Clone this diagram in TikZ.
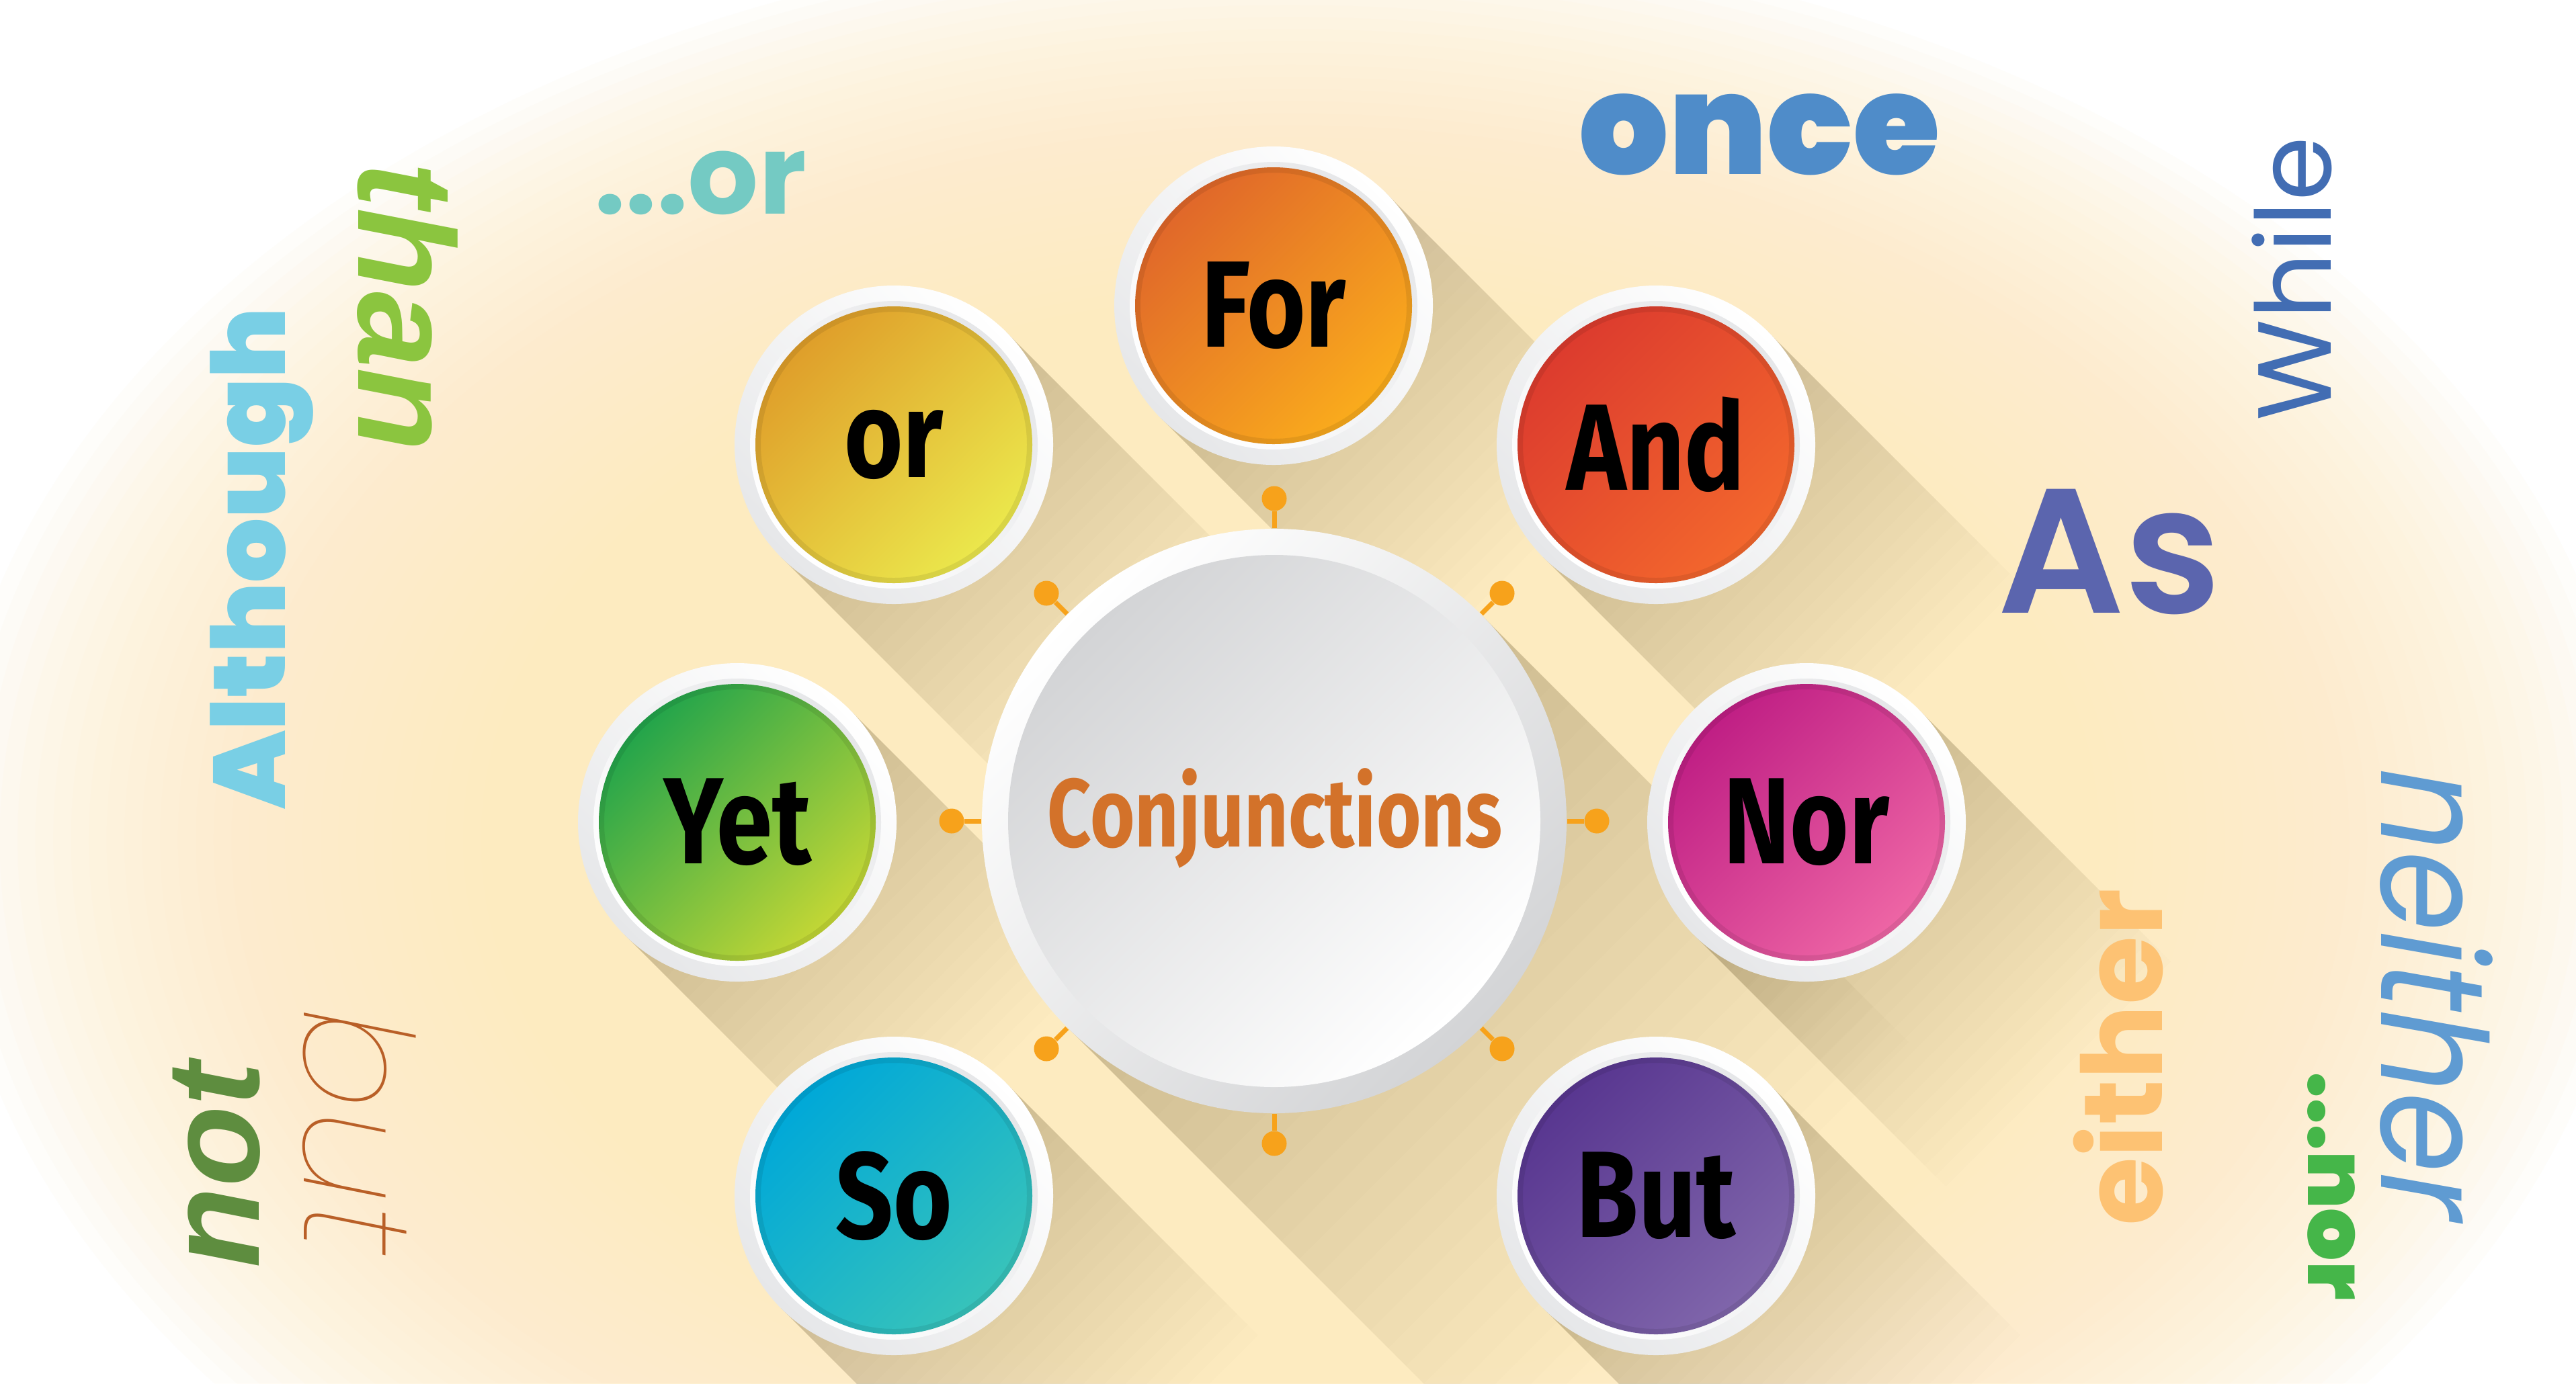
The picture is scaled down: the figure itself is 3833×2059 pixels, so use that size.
\documentclass[tikz,border=0pt]{standalone}
\usepackage{fontspec}
\usepackage{graphicx}
\usetikzlibrary{calc}

\newfontfamily\fira{Fira Sans}
\newfontfamily\pop{Poppins}
\newfontfamily\libsans{Liberation Sans}
\newfontfamily\popslant{Poppins}[FakeSlant=0.2]
\IfFontExistsTF{Poppins SemiBold}{\newfontfamily\popsemi{Poppins SemiBold}}{\newcommand\popsemi{\pop\bfseries}}
\IfFontExistsTF{Poppins Black}{\newfontfamily\popblack{Poppins Black}}{\newcommand\popblack{\pop\bfseries}}
\IfFontExistsTF{Poppins Thin}{\newfontfamily\popthin{Poppins Thin}[FakeSlant=0.2]}{%
  \IfFontExistsTF{Poppins Light}{\newfontfamily\popthin{Poppins Light}[FakeSlant=0.2]}{\newfontfamily\popthin{Poppins}[FakeSlant=0.2]}}

\definecolor{cream}{HTML}{FDEBC0}
\definecolor{ringgray}{HTML}{E6E7E9}
\definecolor{hubgray}{HTML}{D3D4D6}
\definecolor{dotorange}{HTML}{F7A21B}
\definecolor{conjorange}{HTML}{D3722A}
\definecolor{forA}{HTML}{E0672A}\definecolor{forB}{HTML}{FAAC1C}
\definecolor{andA}{HTML}{DC3B2E}\definecolor{andB}{HTML}{F3672D}
\definecolor{norA}{HTML}{BF1E84}\definecolor{norB}{HTML}{EE66A5}
\definecolor{butA}{HTML}{583690}\definecolor{butB}{HTML}{8066AB}
\definecolor{soA}{HTML}{00A8D8}\definecolor{soB}{HTML}{38C3BA}
\definecolor{yetA}{HTML}{22A44B}\definecolor{yetB}{HTML}{C4D735}
\definecolor{orA}{HTML}{DF9E2A}\definecolor{orB}{HTML}{EBE84C}
\definecolor{cOnce}{HTML}{4F8CC9}
\definecolor{cDotsOr}{HTML}{74CAC3}
\definecolor{cThan}{HTML}{8BC53F}
\definecolor{cAlthough}{HTML}{79CFE5}
\definecolor{cNot}{HTML}{5E8D3F}
\definecolor{cBut}{HTML}{B95F27}
\definecolor{cWhile}{HTML}{426DB3}
\definecolor{cAs}{HTML}{5B65AE}
\definecolor{cEither}{HTML}{FDC273}
\definecolor{cNeither}{HTML}{5F9BD2}
\definecolor{cNor}{HTML}{45B649}

\newcommand\longshadow[4]{%
  \begin{scope}[shift={(#1,#2)}, rotate=-45]
    \foreach \k in {1,...,24}{\fill[black, opacity=0.0095] (0,-#3) rectangle ({#4/24*\k},#3);}
  \end{scope}}

\newcommand\satellite[6]{%
  \shade[top color=white, bottom color=ringgray, shading angle=-45] (#2,#3) circle[radius=237];
  \shade[top color=ringgray, bottom color=white, shading angle=-45] (#2,#3) circle[radius=214];
  \shade[top color=#4, bottom color=#5, shading angle=45] (#2,#3) circle[radius=206];
  \draw[black, opacity=0.08, line width=0.08cm] (#2,#3) circle[radius=202];
  \node[satlabel] (#1) at (#2,#3) {\scalebox{0.82}[1]{#6}};}

\begin{document}
\begin{tikzpicture}[x=0.01cm, y=-0.01cm,
  satlabel/.style={circle, minimum size=4.74cm, inner sep=0pt, font=\fira\bfseries\fontsize{52}{52}\selectfont, text=black},
  hubnode/.style={circle, minimum size=8.7cm, inner sep=0pt},
  dotnode/.style={circle, fill=dotorange, minimum size=0.37cm, inner sep=0pt},
  conn/.style={draw=dotorange, line width=0.07cm},
  word/.style={inner sep=0pt, anchor=center}]
\useasboundingbox (0,0) rectangle (3833,2059);
\begin{scope}
  \clip (0,0) rectangle (3833,2059);
  \fill[white] (0,0) rectangle (3833,2059);
  % soft cream glow
  \foreach \k in {0,...,49}{%
    \pgfmathsetmacro\s{1.0-0.65*\k/49}
    \fill[cream, opacity=0.065] (1920,1250) ellipse[x radius={2000*\s}, y radius={1350*\s}];}
  % long shadows
  \longshadow{1896}{1222}{435}{900}
  \longshadow{1895}{455}{237}{530}
  \longshadow{2464}{662}{237}{530}
  \longshadow{2688}{1224}{237}{530}
  \longshadow{2464}{1780}{237}{530}
  \longshadow{1330}{1780}{237}{530}
  \longshadow{1097}{1224}{237}{530}
  \longshadow{1330}{662}{237}{530}
\end{scope}

% hub
\shade[top color=white, bottom color=hubgray, shading angle=45] (1896,1222) circle[radius=435];
\shade[top color=hubgray, bottom color=white, shading angle=45] (1896,1222) circle[radius=396];
\node[hubnode] (hub) at (1896,1222) {};
\node[anchor=base, inner sep=0pt, text=conjorange, font=\fira\bfseries\fontsize{41}{41}\selectfont] (title) at (1897,1260) {\scalebox{0.79}[1]{Conjunctions}};

% connectors
\node[dotnode] (d0) at (2376,1222) {};
\node[dotnode] (d45) at (2235,883) {};
\node[dotnode] (d90) at (1896,742) {};
\node[dotnode] (d135) at (1557,883) {};
\node[dotnode] (d180) at (1416,1222) {};
\node[dotnode] (d225) at (1557,1561) {};
\node[dotnode] (d270) at (1896,1702) {};
\node[dotnode] (d315) at (2235,1561) {};
\foreach \d in {d0,d45,d90,d135,d180,d225,d270,d315}{\draw[conn] (hub) -- (\d);}

% satellites
\satellite{sFor}{1895}{455}{forA}{forB}{For}
\satellite{sAnd}{2464}{662}{andA}{andB}{And}
\satellite{sNor}{2688}{1224}{norA}{norB}{Nor}
\satellite{sBut}{2464}{1780}{butA}{butB}{But}
\satellite{sSo}{1330}{1780}{soA}{soB}{So}
\satellite{sYet}{1097}{1224}{yetA}{yetB}{Yet}
\satellite{sOr}{1330}{662}{orA}{orB}{or}

% scattered words
\node[word, text=cOnce, font=\popblack\fontsize{59.7}{60}\selectfont] (wOnce) at (2618,200) {once};
\node[word, text=cDotsOr, font=\pop\bfseries\fontsize{47}{47}\selectfont] (wDotsOr) at (1042,272) {...or};
\node[word, rotate=-90, text=cThan, font=\libsans\bfseries\itshape\fontsize{58}{58}\selectfont] (wThan) at (606,457) {than};
\node[word, rotate=90, text=cAlthough, font=\popblack\fontsize{43}{43}\selectfont] (wAlthough) at (389,831) {Although};
\node[word, rotate=90, text=cNot, font=\libsans\bfseries\itshape\fontsize{56}{56}\selectfont] (wNot) at (322,1734) {not};
\node[word, rotate=-90, text=cBut, font=\popthin\fontsize{64}{64}\selectfont] (wBut) at (535,1671) {but};
\node[word, rotate=90, text=cWhile, font=\pop\fontsize{44}{44}\selectfont] (wWhile) at (3410,415) {While};
\node[word, text=cAs, font=\popsemi\fontsize{75}{75}\selectfont] (wAs) at (3139,821) {As};
\node[word, rotate=90, text=cEither, font=\pop\bfseries\fontsize{47}{47}\selectfont] (wEither) at (3152,1574) {either};
\node[word, rotate=-90, text=cNeither, font=\popslant\fontsize{62}{62}\selectfont] (wNeither) at (3625,1470) {\scalebox{0.88}[1]{neither}};
\node[word, rotate=-90, text=cNor, font=\popblack\fontsize{35}{35}\selectfont] (wNor) at (3469,1765) {...nor};
\end{tikzpicture}
\end{document}
